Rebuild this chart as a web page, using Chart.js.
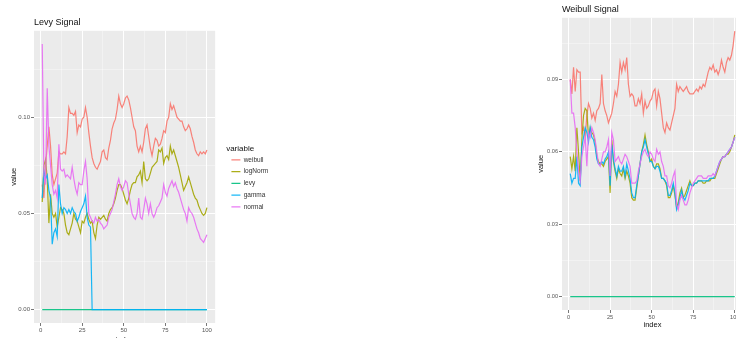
<!DOCTYPE html>
<html>
<head>
<meta charset="utf-8">
<script src="https://cdn.jsdelivr.net/npm/chart.js@4.4.1/dist/chart.umd.min.js"></script>
<style>
  html, body { margin:0; padding:0; background:#fff; }
  #wrap { position:relative; width:736px; height:338px; overflow:hidden; }
  canvas { position:absolute; top:0; }
  #levyChart { left:0; }
  #weibullChart { left:528px; }
</style>
</head>
<body>
<div id="wrap">
  <canvas id="levyChart" width="280" height="346"></canvas>
  <canvas id="weibullChart" width="215" height="331"></canvas>
</div>
<script>
var seriesNames = ['weibull', 'logNorm', 'levy', 'gamma', 'normal'];
var seriesColors = ['rgba(248,118,109,0.9)', 'rgba(163,165,0,0.9)', 'rgba(0,191,125,0.9)', 'rgba(0,176,246,0.9)', 'rgba(231,107,243,0.9)'];

var index = [];
for (var i = 1; i <= 100; i++) index.push(i);

var xMajor = [0, 25, 50, 75, 100];
var xMinor = [12.5, 37.5, 62.5, 87.5];
var xTickLabels = ['0', '25', '50', '75', '100'];

var levyYMajor = [0, 0.05, 0.10];
var levyYMinor = [0.025, 0.075, 0.125];
var levyYTickLabels = ['0.00', '0.05', '0.10'];

var weibullYMajor = [0, 0.03, 0.06, 0.09];
var weibullYMinor = [0.015, 0.045, 0.075, 0.105];
var weibullYTickLabels = ['0.00', '0.03', '0.06', '0.09'];

// Levy Signal
var levyWeibull = [
  0.065, 0.058, 0.075, 0.085, 0.095, 0.085, 0.070, 0.065, 0.068, 0.071,
  0.082, 0.081, 0.081, 0.082, 0.081, 0.090, 0.105, 0.102, 0.102, 0.101,
  0.103, 0.092, 0.096, 0.095, 0.099, 0.100, 0.105, 0.100, 0.092, 0.085,
  0.079, 0.076, 0.074, 0.073, 0.075, 0.077, 0.082, 0.083, 0.079, 0.078,
  0.084, 0.088, 0.094, 0.097, 0.099, 0.104, 0.111, 0.107, 0.105, 0.107,
  0.110, 0.111, 0.109, 0.105, 0.100, 0.095, 0.093, 0.085, 0.082, 0.085,
  0.082, 0.087, 0.094, 0.096, 0.090, 0.084, 0.080, 0.085, 0.089, 0.088,
  0.085, 0.086, 0.089, 0.093, 0.092, 0.098, 0.100, 0.107, 0.104, 0.106,
  0.103, 0.100, 0.099, 0.098, 0.098, 0.095, 0.093, 0.094, 0.096, 0.094,
  0.090, 0.087, 0.083, 0.081, 0.080, 0.082, 0.081, 0.082, 0.081, 0.083
];
var levyLogNorm = [
  0.056, 0.075, 0.078, 0.068, 0.045, 0.060, 0.050, 0.048, 0.050, 0.043,
  0.048, 0.053, 0.052, 0.050, 0.044, 0.040, 0.039, 0.042, 0.045, 0.050,
  0.047, 0.046, 0.043, 0.040, 0.046, 0.045, 0.048, 0.050, 0.047, 0.045,
  0.046, 0.040, 0.037, 0.044, 0.048, 0.047, 0.048, 0.049, 0.047, 0.046,
  0.050, 0.052, 0.053, 0.055, 0.058, 0.062, 0.065, 0.065, 0.063, 0.060,
  0.057, 0.055, 0.058, 0.062, 0.065, 0.066, 0.066, 0.069, 0.070, 0.072,
  0.066, 0.077, 0.068, 0.067, 0.068, 0.071, 0.074, 0.075, 0.076, 0.077,
  0.083, 0.082, 0.084, 0.076, 0.079, 0.080, 0.078, 0.085, 0.081, 0.083,
  0.080, 0.077, 0.074, 0.070, 0.066, 0.062, 0.064, 0.066, 0.069, 0.066,
  0.063, 0.060, 0.058, 0.057, 0.054, 0.052, 0.050, 0.049, 0.050, 0.053
];
var levyLevy = [
  0, 0, 0, 0, 0, 0, 0, 0, 0, 0, 0, 0, 0, 0, 0, 0, 0, 0, 0, 0,
  0, 0, 0, 0, 0, 0, 0, 0, 0, 0, 0, 0, 0, 0, 0, 0, 0, 0, 0, 0,
  0, 0, 0, 0, 0, 0, 0, 0, 0, 0, 0, 0, 0, 0, 0, 0, 0, 0, 0, 0,
  0, 0, 0, 0, 0, 0, 0, 0, 0, 0, 0, 0, 0, 0, 0, 0, 0, 0, 0, 0,
  0, 0, 0, 0, 0, 0, 0, 0, 0, 0, 0, 0, 0, 0, 0, 0, 0, 0, 0, 0
];
var levyGamma = [
  0.058, 0.072, 0.068, 0.070, 0.062, 0.058, 0.034, 0.040, 0.042, 0.038,
  0.065, 0.055, 0.050, 0.053, 0.052, 0.050, 0.052, 0.050, 0.053, 0.051,
  0.050, 0.046, 0.048, 0.051, 0.053, 0.055, 0.059, 0.048, 0.044, 0.043,
  0, 0, 0, 0, 0, 0, 0, 0, 0, 0, 0, 0, 0, 0, 0, 0, 0, 0, 0, 0,
  0, 0, 0, 0, 0, 0, 0, 0, 0, 0, 0, 0, 0, 0, 0, 0, 0, 0, 0, 0,
  0, 0, 0, 0, 0, 0, 0, 0, 0, 0, 0, 0, 0, 0, 0, 0, 0, 0, 0, 0,
  0, 0, 0, 0, 0, 0, 0, 0, 0, 0
];
var levyNormal = [
  0.138, 0.070, 0.065, 0.115, 0.085, 0.075, 0.065, 0.060, 0.062, 0.058,
  0.086, 0.073, 0.072, 0.073, 0.069, 0.070, 0.069, 0.068, 0.074, 0.068,
  0.063, 0.060, 0.066, 0.065, 0.065, 0.072, 0.077, 0.068, 0.050, 0.048,
  0.046, 0.045, 0.048, 0.046, 0.047, 0.045, 0.044, 0.042, 0.043, 0.044,
  0.048, 0.050, 0.052, 0.056, 0.060, 0.065, 0.068, 0.064, 0.062, 0.064,
  0.067, 0.066, 0.060, 0.055, 0.050, 0.048, 0.047, 0.050, 0.058, 0.048,
  0.047, 0.052, 0.058, 0.055, 0.050, 0.055, 0.050, 0.048, 0.050, 0.053,
  0.054, 0.056, 0.058, 0.065, 0.061, 0.059, 0.063, 0.065, 0.067, 0.064,
  0.066, 0.063, 0.061, 0.058, 0.055, 0.052, 0.050, 0.046, 0.053, 0.051,
  0.050, 0.048, 0.045, 0.042, 0.040, 0.037, 0.036, 0.035, 0.037, 0.039
];

// Weibull Signal
var weibWeibull = [
  0.090, 0.084, 0.095, 0.085, 0.094, 0.093, 0.093, 0.068, 0.070, 0.066,
  0.075, 0.080, 0.078, 0.074, 0.076, 0.073, 0.077, 0.078, 0.080, 0.092,
  0.080, 0.077, 0.075, 0.072, 0.074, 0.076, 0.080, 0.085, 0.083, 0.088,
  0.097, 0.093, 0.097, 0.094, 0.099, 0.088, 0.083, 0.084, 0.083, 0.079,
  0.079, 0.082, 0.080, 0.084, 0.076, 0.081, 0.078, 0.079, 0.081, 0.082,
  0.085, 0.086, 0.079, 0.085, 0.082, 0.076, 0.070, 0.068, 0.072, 0.070,
  0.069, 0.072, 0.075, 0.078, 0.088, 0.085, 0.087, 0.086, 0.085, 0.086,
  0.087, 0.085, 0.084, 0.084, 0.084, 0.085, 0.086, 0.085, 0.087, 0.086,
  0.088, 0.087, 0.090, 0.093, 0.095, 0.094, 0.096, 0.093, 0.094, 0.092,
  0.094, 0.098, 0.095, 0.093, 0.097, 0.099, 0.098, 0.100, 0.104, 0.110
];
var weibLogNorm = [
  0.058, 0.053, 0.058, 0.052, 0.070, 0.060, 0.048, 0.065, 0.075, 0.078,
  0.077, 0.066, 0.070, 0.068, 0.067, 0.064, 0.058, 0.056, 0.055, 0.055,
  0.054, 0.056, 0.057, 0.058, 0.043, 0.065, 0.056, 0.052, 0.049, 0.053,
  0.051, 0.050, 0.053, 0.049, 0.052, 0.050, 0.047, 0.041, 0.040, 0.040,
  0.045, 0.050, 0.055, 0.060, 0.063, 0.067, 0.063, 0.060, 0.056, 0.057,
  0.054, 0.053, 0.055, 0.055, 0.053, 0.049, 0.049, 0.048, 0.046, 0.041,
  0.041, 0.043, 0.046, 0.042, 0.037, 0.039, 0.043, 0.045, 0.041, 0.042,
  0.044, 0.046, 0.048, 0.046, 0.046, 0.047, 0.047, 0.048, 0.048, 0.048,
  0.047, 0.047, 0.048, 0.048, 0.048, 0.049, 0.049, 0.049, 0.051, 0.053,
  0.055, 0.057, 0.058, 0.058, 0.059, 0.059, 0.060, 0.062, 0.064, 0.067
];
var weibLevy = [
  0, 0, 0, 0, 0, 0, 0, 0, 0, 0, 0, 0, 0, 0, 0, 0, 0, 0, 0, 0,
  0, 0, 0, 0, 0, 0, 0, 0, 0, 0, 0, 0, 0, 0, 0, 0, 0, 0, 0, 0,
  0, 0, 0, 0, 0, 0, 0, 0, 0, 0, 0, 0, 0, 0, 0, 0, 0, 0, 0, 0,
  0, 0, 0, 0, 0, 0, 0, 0, 0, 0, 0, 0, 0, 0, 0, 0, 0, 0, 0, 0,
  0, 0, 0, 0, 0, 0, 0, 0, 0, 0, 0, 0, 0, 0, 0, 0, 0, 0, 0, 0
];
var weibGamma = [
  0.051, 0.047, 0.049, 0.049, 0.058, 0.047, 0.046, 0.062, 0.066, 0.070,
  0.068, 0.064, 0.070, 0.066, 0.065, 0.062, 0.057, 0.055, 0.055, 0.056,
  0.055, 0.057, 0.058, 0.060, 0.046, 0.063, 0.057, 0.053, 0.050, 0.054,
  0.052, 0.052, 0.054, 0.050, 0.055, 0.052, 0.049, 0.043, 0.041, 0.041,
  0.046, 0.050, 0.055, 0.060, 0.062, 0.065, 0.062, 0.059, 0.056, 0.056,
  0.054, 0.053, 0.054, 0.054, 0.052, 0.049, 0.049, 0.048, 0.047, 0.042,
  0.042, 0.044, 0.047, 0.043, 0.036, 0.038, 0.041, 0.044, 0.041, 0.040,
  0.042, 0.044, 0.047, 0.046, 0.046, 0.047, 0.047, 0.048, 0.048, 0.048,
  0.048, 0.048, 0.048, 0.048, 0.049, 0.049, 0.049, 0.050, 0.052, 0.054,
  0.056, 0.057, 0.058, 0.058, 0.059, 0.060, 0.061, 0.062, 0.064, 0.066
];
var weibNormal = [
  0.090, 0.076, 0.076, 0.070, 0.060, 0.052, 0.048, 0.058, 0.062, 0.066,
  0.054, 0.068, 0.066, 0.070, 0.068, 0.065, 0.060, 0.055, 0.054, 0.057,
  0.060, 0.060, 0.062, 0.065, 0.050, 0.068, 0.065, 0.056, 0.057, 0.058,
  0.056, 0.055, 0.057, 0.059, 0.058, 0.056, 0.054, 0.047, 0.047, 0.047,
  0.048, 0.052, 0.055, 0.058, 0.060, 0.061, 0.059, 0.058, 0.060, 0.059,
  0.057, 0.056, 0.061, 0.059, 0.060, 0.056, 0.054, 0.050, 0.050, 0.046,
  0.045, 0.047, 0.050, 0.052, 0.038, 0.036, 0.040, 0.042, 0.040, 0.038,
  0.038, 0.040, 0.043, 0.045, 0.047, 0.048, 0.049, 0.050, 0.050, 0.050,
  0.049, 0.049, 0.049, 0.050, 0.050, 0.050, 0.051, 0.050, 0.052, 0.054,
  0.056, 0.057, 0.058, 0.058, 0.059, 0.060, 0.061, 0.062, 0.064, 0.066
];

var FONT = '"Liberation Sans", Arial, sans-serif';

// grey panel behind the grid, like ggplot's theme_grey
var panelBg = {
  id: 'panelBg',
  beforeDraw: function(chart) {
    var a = chart.chartArea;
    var ctx = chart.ctx;
    ctx.save();
    ctx.fillStyle = '#EBEBEB';
    ctx.fillRect(a.left, a.top, a.right - a.left, a.bottom - a.top);
    ctx.restore();
  }
};

function makeDatasets(lists) {
  var sets = [];
  for (var k = 0; k < seriesNames.length; k++) {
    var pts = [];
    for (var j = 0; j < index.length; j++) {
      pts.push({x: index[j], y: lists[k][j]});
    }
    sets.push({
      label: seriesNames[k],
      data: pts,
      borderColor: seriesColors[k],
      backgroundColor: seriesColors[k],
      borderWidth: 1.2,
      pointRadius: 0,
      tension: 0,
      order: seriesNames.length - k
    });
  }
  return sets;
}

function isIn(v, list) {
  for (var n = 0; n < list.length; n++) {
    if (Math.abs(list[n] - v) < 1e-9) return n;
  }
  return -1;
}

function makeScale(major, minor, labels, min, max, tickSize, titleText, titleSize, fitSize, isY) {
  return {
    type: 'linear',
    min: min,
    max: max,
    afterBuildTicks: function(scale) {
      var all = major.concat(minor).sort(function(a, b) { return a - b; });
      scale.ticks = all.map(function(v) { return {value: v}; });
    },
    afterFit: function(scale) {
      if (isY) scale.width = fitSize; else scale.height = fitSize;
    },
    border: {display: false},
    grid: {
      drawTicks: true,
      tickLength: 3,
      color: function(c) { return isIn(c.tick.value, major) >= 0 ? '#FFFFFF' : 'rgba(255,255,255,0.75)'; },
      lineWidth: function(c) { return isIn(c.tick.value, major) >= 0 ? 1 : 0.5; },
      tickColor: function(c) { return isIn(c.tick.value, major) >= 0 ? '#555555' : 'rgba(0,0,0,0)'; },
      tickWidth: 0.8
    },
    ticks: {
      autoSkip: false,
      maxRotation: 0,
      padding: 1,
      color: '#555555',
      font: {family: FONT, size: tickSize},
      callback: function(v) {
        var n = isIn(v, major);
        return n >= 0 ? labels[n] : '';
      }
    },
    title: {
      display: true,
      text: titleText,
      color: '#111111',
      padding: {top: isY ? 2 : 0, bottom: 2},
      font: {family: FONT, size: titleSize}
    }
  };
}

// empty box between the panel and the legend
var legendGap = {
  type: 'linear',
  position: 'right',
  display: true,
  grid: {display: false},
  border: {display: false},
  ticks: {display: false},
  afterFit: function(scale) { scale.width = 11; }
};

new Chart(document.getElementById('levyChart'), {
  type: 'line',
  data: {datasets: makeDatasets([levyWeibull, levyLogNorm, levyLevy, levyGamma, levyNormal])},
  plugins: [panelBg],
  options: {
    responsive: false,
    animation: false,
    devicePixelRatio: 1,
    layout: {padding: {left: 7, right: 10, top: 0, bottom: 0}},
    scales: {
      x: makeScale(xMajor, xMinor, xTickLabels, -3.95, 104.95, 6, 'index', 7.5, 23, false),
      y: makeScale(levyYMajor, levyYMinor, levyYTickLabels, -0.0069, 0.1449, 6, 'value', 7.5, 27, true),
      gap: legendGap
    },
    plugins: {
      tooltip: {enabled: false},
      title: {
        display: true,
        text: 'Levy Signal',
        align: 'start',
        fullSize: false,
        color: '#111111',
        font: {family: FONT, size: 9, weight: 'normal'},
        padding: {top: 17, bottom: 3}
      },
      legend: {
        display: true,
        position: 'right',
        align: 'center',
        fullSize: false,
        title: {
          display: true,
          text: 'variable',
          position: 'start',
          color: '#111111',
          padding: {top: 6, bottom: -1},
          font: {family: FONT, size: 8, lineHeight: 1}
        },
        labels: {
          sort: function(a, b) { return a.datasetIndex - b.datasetIndex; },
          usePointStyle: true,
          pointStyle: 'line',
          pointStyleWidth: 9,
          boxHeight: 7,
          padding: 5.25,
          color: '#333333',
          font: {family: FONT, size: 6.5}
        }
      }
    }
  }
});

new Chart(document.getElementById('weibullChart'), {
  type: 'line',
  data: {datasets: makeDatasets([weibWeibull, weibLogNorm, weibLevy, weibGamma, weibNormal])},
  plugins: [panelBg],
  options: {
    responsive: false,
    animation: false,
    devicePixelRatio: 1,
    layout: {padding: {left: 6, right: 0, top: 0, bottom: 0}},
    scales: {
      x: makeScale(xMajor, xMinor, xTickLabels, -3.95, 104.95, 5.6, 'index', 7.5, 21, false),
      y: makeScale(weibullYMajor, weibullYMinor, weibullYTickLabels, -0.0055, 0.1155, 5.6, 'value', 7.5, 28, true)
    },
    plugins: {
      tooltip: {enabled: false},
      legend: {display: false},
      title: {
        display: true,
        text: 'Weibull Signal',
        align: 'start',
        fullSize: false,
        color: '#111111',
        font: {family: FONT, size: 9, weight: 'normal'},
        padding: {top: 4, bottom: 3}
      }
    }
  }
});
</script>
</body>
</html>
